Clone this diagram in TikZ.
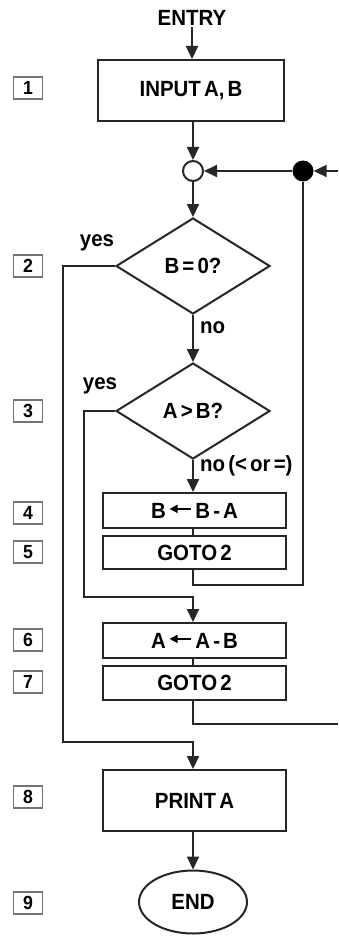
\documentclass[tikz,border=0pt]{standalone}
\usepackage{fontspec}
\setmainfont[FakeStretch=0.93,WordSpace=0.55]{Liberation Sans}
\usetikzlibrary{arrows.meta,shapes.geometric}
\newcommand{\lftarrow}{\hspace{3pt}\tikz[baseline=-0.1em,x=1pt,y=1pt]{\draw[line width=1.6pt,{Triangle[length=8pt,width=8pt]}-] (0,7) -- (21,7);}\hspace{4pt}}
\begin{document}
\begin{tikzpicture}[x=1pt,y=-1pt,
  line/.style={draw=black!85,line width=2pt},
  arr/.style={line,-{Triangle[length=13pt,width=12pt]}},
  txt/.style={font=\fontsize{22}{24}\selectfont\bfseries,inner sep=1pt},
  proc/.style={draw=black!85,line width=2pt,rectangle,txt,inner sep=0pt},
  dec/.style={draw=black!85,line width=2pt,diamond,txt,inner sep=0pt,minimum width=154pt,minimum height=96pt},
  numbox/.style={draw=black!55,line width=1.4pt,rectangle,minimum width=29pt,minimum height=22pt,inner sep=0pt,font=\fontsize{19}{20}\selectfont\bfseries}
]
\useasboundingbox (0,0) rectangle (338,936);

% main column nodes
\node[txt] (entry) at (192,18) {ENTRY};
\node[proc,minimum width=186pt,minimum height=61pt] (in) at (191,90.5) {INPUT A, B};
\node[circle,draw=black!85,line width=2pt,minimum size=20pt,inner sep=0pt] (j) at (193,171) {};
\node[circle,fill=black,minimum size=21pt,inner sep=0pt] (dot) at (303,171) {};
\node[dec] (d1) at (193,266) {B = 0?};
\node[dec] (d2) at (193,411) {A > B?};
\node[proc,minimum width=183pt,minimum height=35pt] (b4) at (194.5,510.5) {B\lftarrow B - A};
\node[proc,minimum width=183pt,minimum height=33pt] (b5) at (194.5,552.5) {GOTO 2};
\node[proc,minimum width=183pt,minimum height=35pt] (b6) at (194.5,640.5) {A\lftarrow A - B};
\node[proc,minimum width=183pt,minimum height=34pt] (b7) at (194.5,683) {GOTO 2};
\node[proc,minimum width=183pt,minimum height=61pt] (pr) at (194.5,800.5) {PRINT A};
\node[ellipse,draw=black!85,line width=2pt,minimum width=108pt,minimum height=63pt,inner sep=0pt,txt] (end) at (193,902) {END};

% step numbers
\node[numbox] (n1) at (28,88) {1};
\node[numbox] (n2) at (28,266) {2};
\node[numbox] (n3) at (28,411) {3};
\node[numbox] (n4) at (28,513) {4};
\node[numbox] (n5) at (28,552) {5};
\node[numbox] (n6) at (28,640) {6};
\node[numbox] (n7) at (28,682) {7};
\node[numbox] (n8) at (28,797) {8};
\node[numbox] (n9) at (28,903) {9};

% branch labels
\node[txt] (y1) at (97,243) {yes};
\node[txt] (y2) at (100,386) {yes};
\node[txt,anchor=west] (no1) at (199,328) {no};
\node[txt,anchor=west] (no2) at (199,466) {no (< or =)};

% coordinates for loops
\coordinate (c1) at (63,742);
\coordinate (c2) at (84,597);
\coordinate (c3) at (303,585);
\coordinate (rin) at (338,171);
\coordinate (rout) at (338,724);

% connectors
\draw[arr] (entry.south) -- (entry.south |- in.north);
\draw[arr] (in.south -| j) -- (j.north);
\draw[arr] (rin) -- (dot.east);
\draw[arr] (dot.west) -- (j.east);
\draw[arr] (j.south) -- (d1.north);
\draw[arr] (d1.south) -- (d2.north);
\draw[arr] (d2.south) -- (d2.south |- b4.north);
\draw[line] (b4.south -| d2.south) -- (b5.north -| d2.south);
\draw[line] (b5.south -| d2.south) |- (c3) -- (dot.south);
\draw[arr] (d2.west) -| (c2) -| (d2.south |- b6.north);
\draw[line] (b6.south -| d2.south) -- (b7.north -| d2.south);
\draw[line] (b7.south -| d2.south) |- (rout);
\draw[arr] (d1.west) -| (c1) -| (d2.south |- pr.north);
\draw[arr] (pr.south -| end.north) -- (end.north);
\end{tikzpicture}
\end{document}
